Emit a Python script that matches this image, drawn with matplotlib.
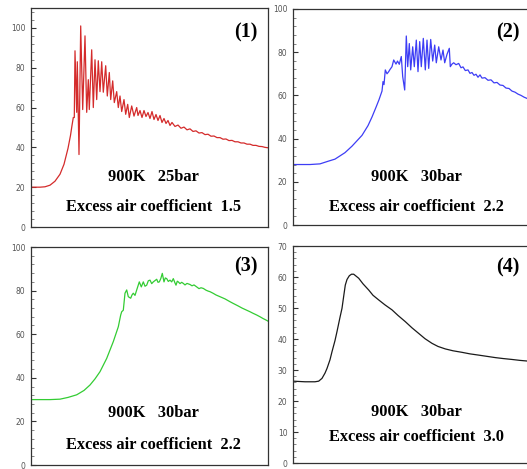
import matplotlib
matplotlib.use("Agg")
import matplotlib.pyplot as plt
from matplotlib.ticker import MultipleLocator, AutoMinorLocator

# ---------------- data (x in arbitrary time units, y = signal) ----------------
p1 = [(31,20),(40,20),(45,20.2),(50,21),(55,23),(60,26.5),(64,31.5),(68,39.5),(70.5,46),(72,51),
      (73.3,55),(74.3,55),(75,88.5),(76.7,57.6),(77.3,83),(79,36.4),(80.7,101),(82.7,59),(85,96),
      (86.7,57.6),(88.3,74),(89.3,59),(91.7,89),(93.3,60),(95,84),(96.7,64),(98.3,83.5),(100,68),
      (101.7,83),(103.3,67.7),(105.7,81),(107.3,65.8),(109.3,77.6),(110.7,64),(112.7,73.4),(114.3,62.5),
      (116.7,68),(118.3,60),(120,65.8),(121.7,58),(124,64),(125.7,56.6),(127.7,61.6),(129.3,55),
      (131.7,60.8),(134,55.7),(136.7,60),(138,56),(140,58.5),(142,55),(144,58.5),(146,55.5),(148,57.5),
      (150,54.5),(152,58),(154,54),(156,56.5),(158,53.5),(160,56),(162,52.5),(164,54.5),(166,52),
      (168,53.5),(170,51),(172,52.5),(175,50.5),(178,51.2),(181,49.6),(184,50.2),(187,48.8),(190,49.3),
      (193,48),(196,48.3),(199,47.2),(202,47.4),(205,46.4),(208,46.6),(211,45.6),(214,45.7),(217,44.9),
      (220,44.9),(223,44.1),(226,44.2),(229,43.4),(232,43.5),(235,42.8),(238,42.8),(241,42.2),(244,42.2),
      (247,41.6),(250,41.6),(253,41),(256,41),(259,40.5),(262,40.4),(265,40),(268,39.8)]
p2 = [(293,28),(310,28),(320,28.3),(328,29.5),(335,30.5),(345,33.5),(352,36.5),(362,41.5),(368,46),
      (372,50),(376,54.5),(379,58),(382,62),(383,66.4),(384,65),(385.3,71.8),(387,70),(388.7,71),(390,72),
      (392,73.3),(393.7,76.4),(396,74.5),(397.5,75.9),(399.3,74.4),(401.3,78),(402.7,68.7),(404.7,62.5),
      (406.3,87.5),(407.7,73.3),(409.3,84),(410.7,71.8),(412.7,82.5),(414.3,73.3),(416.3,85.6),(418,71),
      (419.7,84.9),(421.3,73.3),(423.3,86.4),(425.3,71.8),(427,85.6),(428.7,72.5),(430.7,85.9),
      (432.7,75.9),(434.7,83.3),(436.3,75.1),(438.7,82.5),(441,76.4),(443,81),(444.7,75.1),(447,79),
      (449.3,81.8),(450.3,73.3),(452,74.5),(453.7,75.1),(456,74.2),(458.7,74.8),(461,72.8),(463,73.2),
      (465.3,71.5),(468,71.8),(470,70.2),(472,70.6),(474,69.3),(476,69.8),(478,68.4),(480,69.5),(482,68),
      (485,68.2),(488,67),(491,67.2),(494,65.8),(497,66),(500,64.8),(503,64.6),(506,63.4),(509,63.2),
      (512,62),(515,61.5),(518,60.6),(521,60),(524,59.2),(527,58.6),(530,58)]
p3 = [(31,30),(50,30),(60,30.2),(68,31),(76.7,32.2),(84,34.2),(90,36.7),(95,39.5),(100,42.8),
      (106.7,48.9),(113.3,56.6),(118.3,63.4),(120.7,68.8),(121.7,70.3),(123.3,71),(125,78.8),(126.7,80.3),
      (128.3,77.2),(130.7,76.5),(132,78),(133.3,78.8),(135,77.8),(136.7,80.3),(139.3,84),(141.3,81.7),
      (143.3,84),(145,82),(146.7,82.5),(148.3,84.5),(150,84.8),(151.7,83.2),(153.3,84),(155,84.6),
      (156.7,85.2),(158,83.8),(159.3,84),(160.8,85.5),(162.3,87.9),(164,84),(165.3,85.8),(166.7,85.5),
      (168.3,84.2),(170,84.8),(171.7,84),(173.3,85.5),(175,83.5),(176,82.5),(177.3,84.3),(178.3,84),
      (180,83.2),(181.7,83.8),(183.3,83.3),(185,82.6),(187,83.3),(190,82.8),(192,82.2),(194,82.6),
      (196.7,81.7),(199,80.9),(201,81.3),(203.3,81),(206,80.2),(208,79.8),(210,79.5),(213,78.8),(216,78),
      (220,77.2),(225,76.2),(230,74.9),(233.3,74.1),(238,73),(242,72),(246.7,71),(250,70.3),(253,69.6),
      (256.7,68.8),(260,68),(263,67.2),(266,66.5),(268,66)]
p4 = [(293,26.4),(305,26.2),(315,26.2),(318.7,26.4),(322,27.3),(325,29),(327,30.5),(330,33.3),
      (332,35.9),(335,39.5),(337,42.4),(340,47),(342,49.9),(344,54.5),(345.3,57.4),(347,59.2),
      (349.3,60.4),(351.5,60.9),(353.7,60.9),(356,60.3),(358.7,59.6),(363,57.8),(368.7,55.8),(373,54.1),
      (378.7,52.6),(385,51),(392,49.4),(398,47.6),(405.3,45.6),(412,43.6),(418.7,41.8),(425,40.1),
      (432,38.6),(438,37.6),(445.3,36.8),(453,36.2),(462,35.7),(470,35.2),(478.7,34.8),(487,34.4),
      (495.3,34),(503,33.7),(512,33.4),(520,33.1),(527,32.9),(530,32.8)]

series = [p1, p2, p3, p4]
x_starts = [31, 293, 31, 293]
colors = ["#d42b2b", "#3d3df5", "#33cc33", "#1a1a1a"]
labels = ["(1)", "(2)", "(3)", "(4)"]
conditions = ["900K   25bar", "900K   30bar", "900K   30bar", "900K   30bar"]
coeffs = ["Excess air coefficient  1.5", "Excess air coefficient  2.2",
          "Excess air coefficient  2.2", "Excess air coefficient  3.0"]
ylims = [(0, 110), (0, 100), (0, 100), (0, 70)]
ysteps = [20, 20, 20, 10]

# ---------------- layout ----------------
W, H = 527, 469
fig = plt.figure(figsize=(W / 100, H / 100), dpi=100)
boxes = [(31, 8, 237, 219), (293, 9, 237, 216), (31, 247, 237, 218), (293, 246, 237, 217)]
cond_y = [0.228, 0.222, 0.24, 0.235]
coef_y = [0.091, 0.083, 0.092, 0.12]
lab_y = [0.89, 0.89, 0.91, 0.90]
cond_x = [0.518, 0.52, 0.518, 0.52]

serif = ["Liberation Serif", "DejaVu Serif"]
for i in range(4):
    l, t, w, h = boxes[i]
    ax = fig.add_axes([l / W, (H - t - h) / H, w / W, h / H])
    xs = [p[0] - x_starts[i] for p in series[i]]
    ys = [p[1] for p in series[i]]
    ax.plot(xs, ys, color=colors[i], lw=0.9)
    ax.set_xlim(0, 237)
    ax.set_ylim(*ylims[i])
    ax.yaxis.set_major_locator(MultipleLocator(ysteps[i]))
    ax.yaxis.set_minor_locator(AutoMinorLocator(5))
    ax.set_xticks([])
    ax.tick_params(axis="y", which="major", direction="in", length=3.5, width=0.8,
                   labelsize=5.5, labelcolor="#555555", color="#333333", pad=4)
    ax.tick_params(axis="y", which="minor", direction="in", length=1.8, width=0.5, color="#555555")
    for s in ax.spines.values():
        s.set_color("#333333")
        s.set_linewidth(0.9)
    ax.text(cond_x[i], cond_y[i], conditions[i], transform=ax.transAxes, ha="center", va="center",
            family=serif, fontweight="bold", fontsize=11.8)
    ax.text(cond_x[i], coef_y[i], coeffs[i], transform=ax.transAxes, ha="center", va="center",
            family=serif, fontweight="bold", fontsize=11.8)
    ax.text(0.955, lab_y[i], labels[i], transform=ax.transAxes, ha="right", va="center",
            family=serif, fontweight="bold", fontsize=14.5)

fig.savefig("out.png", dpi=100)
